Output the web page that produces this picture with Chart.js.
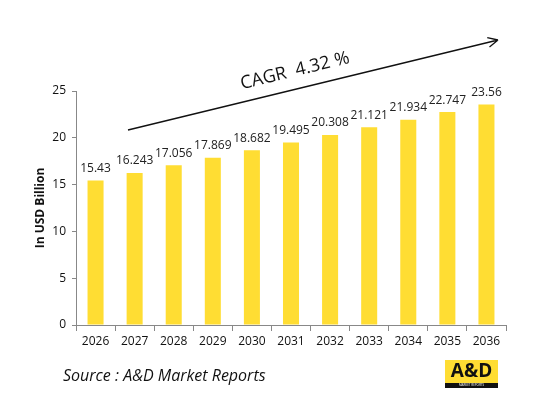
<!DOCTYPE html>
<html>
<head>
<meta charset="utf-8">
<script src="https://cdn.jsdelivr.net/npm/chart.js@4"></script>
<style>
  html, body { margin: 0; padding: 0; background: #fff; }
  #wrap { width: 546px; height: 396px; position: relative; }
</style>
</head>
<body>
<div id="wrap"><canvas id="grafico"></canvas></div>
<script>
// datos del grafico
const anios = ['2026', '2027', '2028', '2029', '2030', '2031', '2032', '2033', '2034', '2035', '2036'];
const valores = [15.43, 16.243, 17.056, 17.869, 18.682, 19.495, 20.308, 21.121, 21.934, 22.747, 23.56];
const etiquetas = ['15.43', '16.243', '17.056', '17.869', '18.682', '19.495', '20.308', '21.121', '21.934', '22.747', '23.56'];
const textoCagr = 'CAGR  4.32 %';
const textoFuente = 'Source : A&D Market Reports';

const fuente = "'Open Sans', 'Liberation Sans', sans-serif";

// etiquetas encima de cada barra
const etiquetasBarras = {
    id: 'etiquetasBarras',
    afterDatasetsDraw(chart) {
        const ctx = chart.ctx;
        const meta = chart.getDatasetMeta(0);
        ctx.save();
        ctx.font = '12px ' + fuente;
        ctx.fillStyle = '#222';
        ctx.textAlign = 'center';
        ctx.textBaseline = 'bottom';
        meta.data.forEach((bar, i) => {
            ctx.fillText(etiquetas[i], bar.x, bar.y - 6);
        });
        ctx.restore();
    }
};

// flecha CAGR, texto de fuente y logo
const extras = {
    id: 'extras',
    afterDraw(chart) {
        const ctx = chart.ctx;
        const x1 = 128, y1 = 130, x2 = 498, y2 = 40;
        const ang = Math.atan2(y2 - y1, x2 - x1);
        ctx.save();
        ctx.strokeStyle = '#111';
        ctx.lineWidth = 1.3;
        ctx.beginPath();
        ctx.moveTo(x1, y1);
        ctx.lineTo(x2, y2);
        ctx.moveTo(x2, y2);
        ctx.lineTo(x2 - 11 * Math.cos(ang - 0.45), y2 - 11 * Math.sin(ang - 0.45));
        ctx.moveTo(x2, y2);
        ctx.lineTo(x2 - 11 * Math.cos(ang + 0.45), y2 - 11 * Math.sin(ang + 0.45));
        ctx.stroke();

        ctx.translate(295, 71);
        ctx.rotate(ang);
        ctx.font = '18px ' + fuente;
        ctx.fillStyle = '#111';
        ctx.textAlign = 'center';
        ctx.textBaseline = 'middle';
        ctx.fillText(textoCagr, 0, 0);
        ctx.restore();

        ctx.save();
        ctx.font = 'italic 16px ' + fuente;
        ctx.fillStyle = '#111';
        ctx.textBaseline = 'alphabetic';
        ctx.fillText(textoFuente, 63, 381);

        // logo
        ctx.fillStyle = '#FFDD33';
        ctx.fillRect(445, 360, 53, 24);
        ctx.fillStyle = '#111';
        ctx.fillRect(445, 383, 53, 5);
        ctx.font = 'bold 19px ' + fuente;
        ctx.textAlign = 'center';
        ctx.textBaseline = 'middle';
        ctx.fillText('A&D', 471.5, 372);
        ctx.font = '3px ' + fuente;
        ctx.fillStyle = '#fff';
        ctx.fillText('MARKET REPORTS', 471.5, 385.5);
        ctx.restore();
    }
};

const ctx = document.getElementById('grafico').getContext('2d');
new Chart(ctx, {
    type: 'bar',
    data: {
        labels: anios,
        datasets: [{
            data: valores,
            backgroundColor: '#FFDD33',
            barPercentage: 0.41,
            categoryPercentage: 1
        }]
    },
    options: {
        responsive: true,
        maintainAspectRatio: false,
        animation: false,
        layout: { padding: { top: 91, left: 33, right: 40, bottom: 50 } },
        plugins: { legend: { display: false }, tooltip: { enabled: false } },
        scales: {
            x: {
                grid: { display: true, drawOnChartArea: false, drawTicks: true, tickLength: 6, color: '#888' },
                border: { display: true, color: '#888' },
                ticks: { color: '#111', font: { family: fuente, size: 12 }, padding: 3, maxRotation: 0 },
                afterFit(scale) { scale.height = 21; }
            },
            y: {
                min: 0,
                max: 25,
                ticks: { stepSize: 5, color: '#111', font: { family: fuente, size: 12 }, padding: 6 },
                grid: { display: true, drawOnChartArea: false, drawTicks: true, tickLength: 4, color: '#888' },
                border: { display: true, color: '#888' },
                title: { display: true, text: 'In USD Billion', color: '#111', font: { family: fuente, size: 12, weight: 'bold' }, padding: 0 },
                afterFit(scale) { scale.width = 43; }
            }
        }
    },
    plugins: [etiquetasBarras, extras]
});
</script>
</body>
</html>
